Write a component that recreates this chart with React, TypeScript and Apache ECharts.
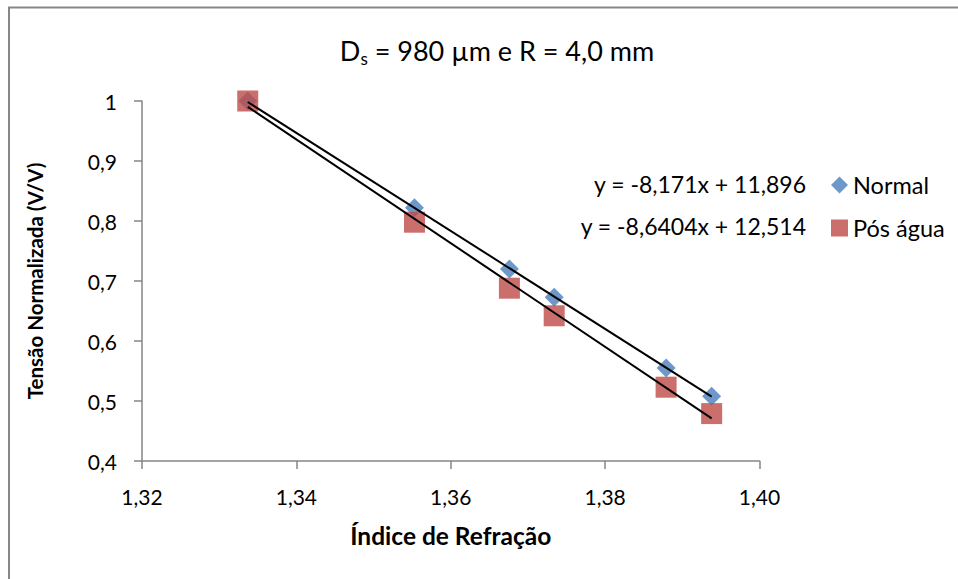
import React, { useEffect, useRef } from "react";
import * as echarts from "echarts";

const indice = [1.3337, 1.3553, 1.3676, 1.3734, 1.3879, 1.3938];
const normal = [1.0, 0.822, 0.72, 0.673, 0.555, 0.508];
const posAgua = [1.0, 0.798, 0.688, 0.642, 0.523, 0.479];
const trendNormal = { slope: -8.171, intercept: 11.896, label: "y = -8,171x + 11,896" };
const trendPos = { slope: -8.6404, intercept: 12.514, label: "y = -8,6404x + 12,514" };
const xTicks = { min: 1.32, max: 1.4, step: 0.02 };
const yTicks = { min: 0.4, max: 1, step: 0.1 };

const FONT = "Lato, 'Open Sans', sans-serif";
const AXIS_COLOR = "#868686";

function trendLine(t: { slope: number; intercept: number }) {
  const x0 = Math.min(...indice);
  const x1 = Math.max(...indice);
  return [
    [x0, t.slope * x0 + t.intercept],
    [x1, t.slope * x1 + t.intercept],
  ];
}

export default function App() {
  const ref = useRef<HTMLDivElement>(null);
  useEffect(() => {
    document.body.style.margin = "0";
    const chart = echarts.init(ref.current!, undefined, { renderer: "svg" });
    chart.setOption({
      animation: false,
      backgroundColor: "#ffffff",
      textStyle: { fontFamily: FONT },
      grid: { left: 142, top: 101, width: 617.5, height: 360, containLabel: false },
      legend: {
        orient: "vertical",
        left: 826,
        top: 168,
        itemGap: 19,
        itemWidth: 17,
        itemHeight: 17,
        textStyle: { fontFamily: FONT, fontSize: 23.5, color: "#000" },
        data: [
          { name: "Normal", icon: "diamond" },
          { name: "Pós água", icon: "rect" },
        ],
      },
      xAxis: {
        type: "value",
        min: xTicks.min,
        max: xTicks.max,
        interval: xTicks.step,
        name: "Índice de Refração",
        nameLocation: "middle",
        nameGap: 62,
        nameTextStyle: { fontFamily: FONT, fontSize: 24.5, fontWeight: "bold", color: "#000" },
        axisLine: { show: true, lineStyle: { color: AXIS_COLOR, width: 1.5 } },
        axisTick: { show: true, inside: false, length: 8, lineStyle: { color: AXIS_COLOR, width: 1.5 } },
        axisLabel: {
          margin: 25,
          fontFamily: FONT,
          fontSize: 21,
          color: "#000",
          formatter: (v: number) => v.toFixed(2).replace(".", ","),
        },
        splitLine: { show: false },
      },
      yAxis: {
        type: "value",
        min: yTicks.min,
        max: yTicks.max,
        interval: yTicks.step,
        name: "Tensão Normalizada (V/V)",
        nameLocation: "middle",
        nameGap: 97,
        nameRotate: 90,
        nameTextStyle: { fontFamily: FONT, fontSize: 20.5, fontWeight: "bold", color: "#000" },
        axisLine: { show: true, lineStyle: { color: AXIS_COLOR, width: 1.5 } },
        axisTick: { show: true, inside: false, length: 8, lineStyle: { color: AXIS_COLOR, width: 1.5 } },
        axisLabel: {
          margin: 25,
          fontFamily: FONT,
          fontSize: 21,
          color: "#000",
          formatter: (v: number) => {
            const r = Math.round(v * 10) / 10;
            return r === 1 ? "1" : r.toFixed(1).replace(".", ",");
          },
        },
        splitLine: { show: false },
      },
      graphic: [
        {
          type: "rect",
          shape: { x: 9, y: 7.5, width: 1000, height: 700 },
          style: { fill: "none", stroke: "#878787", lineWidth: 2 },
          silent: true,
          z: -1,
        },
        {
          type: "text",
          x: 497,
          y: 50,
          style: {
            text: "D{sub|s} = 980 µm e R = 4,0 mm",
            fontFamily: FONT,
            fontSize: 27,
            fill: "#000",
            align: "center",
            verticalAlign: "middle",
            rich: {
              sub: { fontFamily: FONT, fontSize: 17, padding: [16, 0, 0, 0], fill: "#000" },
            },
          },
        },
        {
          type: "text",
          x: 806,
          y: 184,
          style: {
            text: trendNormal.label,
            fontFamily: FONT,
            fontSize: 23,
            fill: "#000",
            align: "right",
            verticalAlign: "middle",
          },
        },
        {
          type: "text",
          x: 806,
          y: 226,
          style: {
            text: trendPos.label,
            fontFamily: FONT,
            fontSize: 23,
            fill: "#000",
            align: "right",
            verticalAlign: "middle",
          },
        },
      ],
      series: [
        {
          name: "Normal",
          type: "scatter",
          symbol: "diamond",
          symbolSize: 19,
          itemStyle: { color: "#4A7EBB" },
          data: indice.map((x, i) => [x, normal[i]]),
          z: 2,
        },
        {
          name: "Pós água",
          type: "scatter",
          symbol: "rect",
          symbolSize: 21,
          itemStyle: { color: "#BE4B48" },
          data: indice.map((x, i) => [x, posAgua[i]]),
          z: 3,
        },
        {
          name: "trendNormal",
          type: "line",
          showSymbol: false,
          symbol: "none",
          lineStyle: { color: "#000", width: 2 },
          data: trendLine(trendNormal),
          z: 4,
        },
        {
          name: "trendPos",
          type: "line",
          showSymbol: false,
          symbol: "none",
          lineStyle: { color: "#000", width: 2 },
          data: trendLine(trendPos),
          z: 4,
        },
      ],
    });
    return () => chart.dispose();
  }, []);
  return <div ref={ref} style={{ width: 958, height: 579 }} />;
}
